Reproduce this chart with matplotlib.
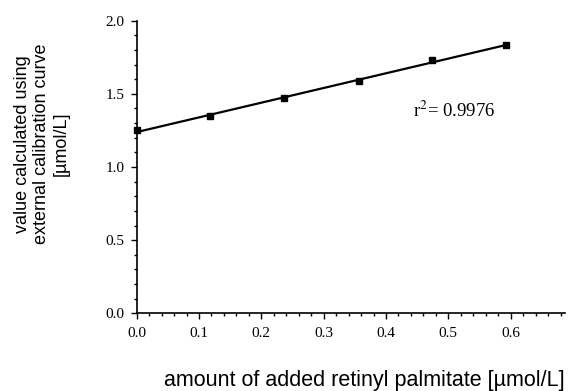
import numpy as np
import matplotlib
matplotlib.use("Agg")
import matplotlib.pyplot as plt
from matplotlib.ticker import MultipleLocator

# data
added = [0.0, 0.118, 0.237, 0.356, 0.474, 0.592]
found = [1.250, 1.347, 1.473, 1.588, 1.729, 1.831]
x_ticks = [0.0, 0.1, 0.2, 0.3, 0.4, 0.5, 0.6]
y_ticks = [0.0, 0.5, 1.0, 1.5, 2.0]
r2_text = "r$^2$= 0.9976"

serif = "Liberation Serif"
sans = "Liberation Sans"

fig = plt.figure(figsize=(5.7, 3.91), dpi=100)
ax = fig.add_axes([0.2398, 0.1987, 0.7512, 0.7483])

# linear fit through the points
slope, icpt = np.polyfit(added, found, 1)
xfit = np.array([0.0, max(added)])
ax.plot(xfit, icpt + slope * xfit, color="black", lw=1.6, zorder=2)
ax.plot(added, found, "s", color="black", ms=4.5, zorder=3, clip_on=False)

ax.set_xlim(0, 0.687)
ax.set_ylim(0, 2.0)
ax.set_xticks(x_ticks)
ax.set_yticks(y_ticks)
ax.xaxis.set_minor_locator(MultipleLocator(0.02))
ax.yaxis.set_minor_locator(MultipleLocator(0.1))
ax.set_xticklabels([f"{v:.1f}" for v in x_ticks], family=serif, fontsize=11)
ax.set_yticklabels([f"{v:.1f}" for v in y_ticks], family=serif, fontsize=11)
ax.tick_params(which="major", direction="out", length=4, width=1)
ax.tick_params(which="minor", direction="out", length=2.3, width=1)
ax.tick_params(axis="x", which="major", pad=6)
ax.tick_params(axis="y", which="major", pad=5)

for s in ["top", "right"]:
    ax.spines[s].set_visible(False)
for s in ["left", "bottom"]:
    ax.spines[s].set_linewidth(1.2)

ax.text(0.443, 1.386, r2_text, family=serif, fontsize=13.5, va="center", ha="left",
        math_fontfamily="stix")

fig.text(0.640, 0.027, "amount of added retinyl palmitate [µmol/L]",
         family=sans, fontsize=15.5, ha="center", va="center")
fig.text(0.073, 0.632, "value calculated using\nexternal calibration curve\n[µmol/L]",
         family=sans, fontsize=13, ha="center", va="center", rotation=90,
         linespacing=1.2)

fig.savefig("out.png", dpi=100)
